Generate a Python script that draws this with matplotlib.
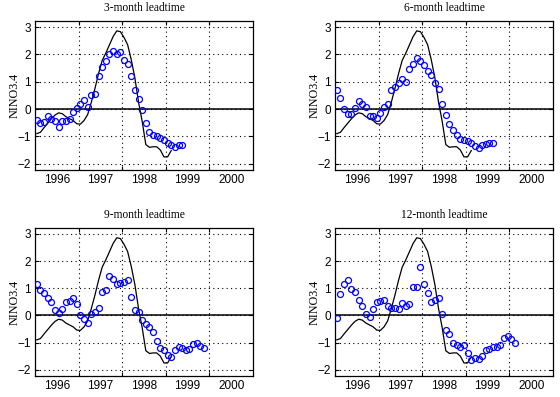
import numpy as np
import matplotlib
matplotlib.use("Agg")
import matplotlib.pyplot as plt
from matplotlib.ticker import FixedLocator, NullFormatter, FixedFormatter

# observed NINO3.4, monthly (mid-month), starting Jan 1996
obs = [-0.90, -0.85, -0.68, -0.52, -0.36, -0.22, -0.14, -0.17, -0.28, -0.35,
       -0.42, -0.54, -0.55, -0.42, -0.20, 0.25, 0.75, 1.30, 1.78, 2.05,
       2.35, 2.65, 2.86, 2.83, 2.62, 2.35, 1.80, 1.13, 0.25, -0.45,
       -1.30, -1.40, -1.38, -1.38, -1.50, -1.75, -1.75, -1.52]

# model forecasts, monthly (mid-month), starting Jan 1996
lead3 = [-0.39, -0.51, -0.49, -0.27, -0.37, -0.45, -0.64, -0.43, -0.43, -0.36,
         -0.11, 0.03, 0.18, 0.32, 0.07, 0.52, 0.56, 1.22, 1.52, 1.74,
         2.00, 2.13, 2.03, 2.09, 1.81, 1.63, 1.20, 0.70, 0.37, -0.04,
         -0.51, -0.84, -0.94, -1.00, -1.06, -1.12, -1.24, -1.30, -1.39, -1.33,
         -1.33]
lead6 = [0.70, 0.40, 0.00, -0.19, -0.19, 0.03, 0.30, 0.20, 0.08, -0.26,
         -0.26, -0.33, -0.15, 0.07, 0.20, 0.70, 0.80, 0.96, 1.09, 0.99,
         1.45, 1.63, 1.85, 1.74, 1.60, 1.38, 1.26, 0.94, 0.72, 0.18,
         -0.22, -0.55, -0.76, -0.95, -1.09, -1.12, -1.18, -1.24, -1.36, -1.42,
         -1.33, -1.28, -1.24, -1.24]
lead9 = [1.17, 0.95, 0.84, 0.63, 0.48, 0.20, 0.10, 0.22, 0.48, 0.53,
         0.65, 0.41, 0.00, -0.14, -0.29, 0.04, 0.12, 0.26, 0.86, 0.93,
         1.46, 1.35, 1.14, 1.19, 1.22, 1.32, 0.69, 0.20, 0.12, -0.16,
         -0.31, -0.43, -0.61, -0.95, -1.19, -1.29, -1.47, -1.52, -1.26, -1.15,
         -1.19, -1.29, -1.22, -1.07, -1.01, -1.11, -1.19]
lead12 = [-0.10, 0.80, 1.16, 1.31, 0.98, 0.88, 0.58, 0.36, 0.07, -0.07,
          0.25, 0.48, 0.53, 0.58, 0.36, 0.29, 0.29, 0.22, 0.47, 0.36,
          0.42, 1.05, 1.05, 1.78, 1.16, 0.84, 0.48, 0.56, 0.65, 0.07,
          -0.53, -0.68, -1.02, -1.10, -1.15, -1.09, -1.38, -1.63, -1.56, -1.60,
          -1.48, -1.29, -1.23, -1.15, -1.18, -1.10, -0.84, -0.74, -0.87, -1.02]

titles = ["3-month leadtime", "6-month leadtime", "9-month leadtime", "12-month leadtime"]
forecasts = [lead3, lead6, lead9, lead12]
year_labels = ["1996", "1997", "1998", "1999", "2000"]
START_YEAR = 1996

TICK_FONT = ["Liberation Sans Narrow", "Liberation Sans"]


def month_axis(n):
    # mid-month positions in decimal years
    return START_YEAR + (np.arange(n) + 0.5) / 12.0


fig = plt.figure(figsize=(5.6, 3.97), dpi=100)
W, H = 560.0, 397.0
# axes boxes in pixels: left, top, right, bottom
boxes = [(35, 21, 253, 170), (335, 21, 553, 170),
         (35, 228, 253, 376), (335, 228, 553, 376)]

for box, title, fc in zip(boxes, titles, forecasts):
    l, t, r, b = box
    ax = fig.add_axes([l / W, 1 - b / H, (r - l) / W, (b - t) / H])

    ax.plot(month_axis(len(obs)), obs, color="black", lw=0.9, zorder=2)
    ax.axhline(0, color="black", lw=1.1, zorder=1)
    ax.plot(month_axis(len(fc)), fc, linestyle="none", marker="o",
            markersize=4.3, markerfacecolor="none", markeredgecolor="#0000ff",
            markeredgewidth=0.9, zorder=3)

    ax.set_xlim(1996, 2001)
    ax.set_ylim(-2.23, 3.22)

    ax.xaxis.set_major_locator(FixedLocator([1997, 1998, 1999, 2000]))
    ax.xaxis.set_major_formatter(NullFormatter())
    ax.xaxis.set_minor_locator(FixedLocator([1996.5, 1997.5, 1998.5, 1999.5, 2000.5]))
    ax.xaxis.set_minor_formatter(FixedFormatter(year_labels))
    ax.set_yticks([-2, -1, 0, 1, 2, 3])

    ax.tick_params(which="major", direction="in", length=3, width=0.8,
                   top=True, right=True, labelsize=8.5, pad=3)
    ax.tick_params(which="minor", length=0, labelsize=8.5, pad=3)
    for lab in ax.get_xticklabels(minor=True) + ax.get_yticklabels():
        lab.set_family(TICK_FONT)

    ax.grid(True, which="major", color="black", linestyle=(0, (1, 3)), lw=0.8)
    for sp in ax.spines.values():
        sp.set_linewidth(0.9)

    ax.set_title(title, family="Liberation Serif", fontsize=8.3, pad=7)
    ax.set_ylabel("NINO3.4", family="Liberation Serif", fontsize=8.7)
    ax.yaxis.set_label_coords(-0.068, 0.5)

fig.savefig("out.png", dpi=100, facecolor="white")
